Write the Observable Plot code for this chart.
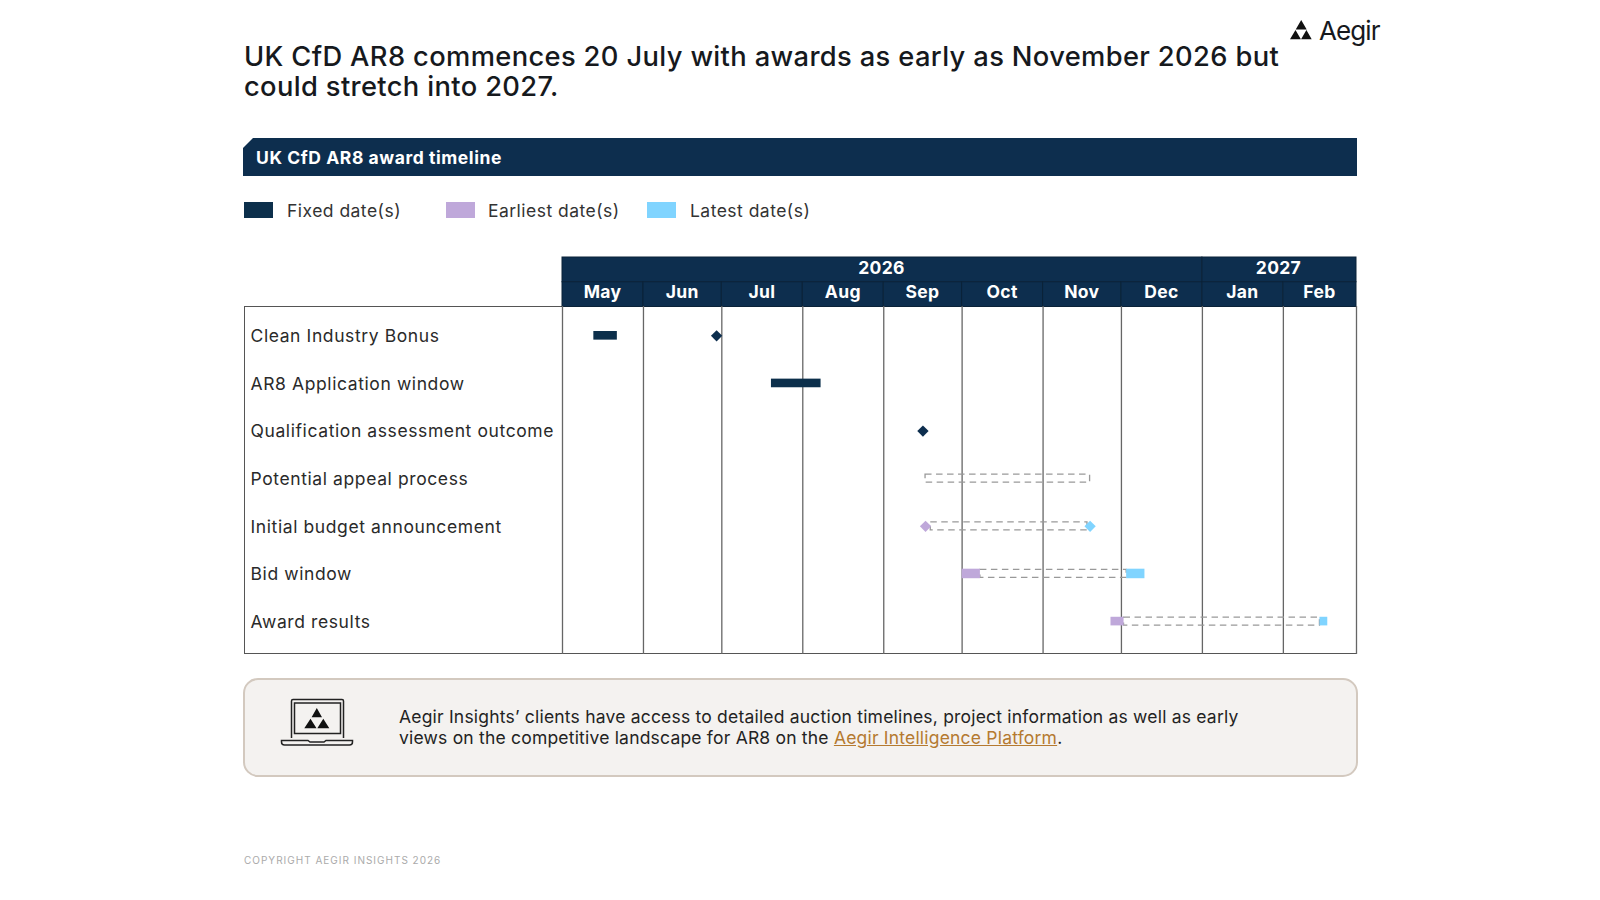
<!DOCTYPE html>
<html>
<head>
<meta charset="utf-8">
<script src="https://cdn.jsdelivr.net/npm/d3@7"></script>
<script src="https://cdn.jsdelivr.net/npm/@observablehq/plot@0.6"></script>
<style>
  html, body { margin: 0; padding: 0; background: #fff; }
  body { width: 1600px; height: 900px; position: relative; overflow: hidden; font-family: Inter, sans-serif; color: #1e1e1e; }
  .abs { position: absolute; white-space: nowrap; }
  #title { left: 244px; top: 41.5px; font-size: 27.3px; line-height: 30px; font-weight: 500; letter-spacing: 0.36px; color: #16191d; }
  #banner { left: 243px; top: 138px; width: 1114px; height: 38px; background: #0d2e4e; color: #fff; clip-path: polygon(10px 0, 100% 0, 100% 100%, 0 100%, 0 10px); font-size: 17.5px; font-weight: 700; line-height: 39.500px; letter-spacing: 0.57px; }
  #banner span { margin-left: 13px; }
  .sw { width: 28.5px; height: 16px; top: 202px; }
  .lg { top: 200px; line-height: 22px; font-size: 17.5px; letter-spacing: 0.47px; color: #333; }
  #frame { left: 244px; top: 305.5px; width: 1112.5px; height: 348px; border: 1.3px solid #555; box-sizing: border-box; }
  #head { left: 0; top: 256.5px; }
  #body { left: 0; top: 306px; }
  #note { left: 243px; top: 678px; width: 1115px; height: 99px; box-sizing: border-box; background: #f4f2f0; border: 2.2px solid #d3c9bf; border-radius: 15px; }
  #noteText { left: 399px; top: 705.5px; font-size: 17.5px; line-height: 21.5px; letter-spacing: 0.2px; color: #232323; }
  #noteText a { color: #b57a30; text-decoration: underline; }
  #copy { left: 244px; top: 854px; font-size: 10px; line-height: 12px; letter-spacing: 1px; color: #aaa; }
  #logoText { left: 1319px; top: 14px; font-size: 26px; line-height: 34px; letter-spacing: -0.9px; color: #16191d; }
</style>
</head>
<body>
<div class="abs" id="title">UK CfD AR8 commences 20 July with awards as early as November 2026 but<br>could stretch into 2027.</div>
<svg class="abs" style="left:1288px;top:18px" width="26" height="24" viewBox="0 0 26 24"><path fill="#111" d="M13.200 2 L18.700 11.500 L7.700 11.500 Z M7.500 12 L12.900 21.300 L2 21.300 Z M18.400 12 L23.700 21.300 L13.100 21.300 Z"/></svg>
<div class="abs" id="logoText">Aegir</div>
<div class="abs" id="banner"><span>UK CfD AR8 award timeline</span></div>
<div class="abs sw" style="left:244px;background:#0c2f4b"></div><div class="abs lg" style="left:287px">Fixed date(s)</div>
<div class="abs sw" style="left:446px;background:#bfa8da"></div><div class="abs lg" style="left:488px">Earliest date(s)</div>
<div class="abs sw" style="left:647px;background:#80d4ff"></div><div class="abs lg" style="left:690px">Latest date(s)</div>
<div class="abs" id="frame"></div>
<div class="abs" id="head"></div>
<div class="abs" id="body"></div>
<div class="abs" id="note"></div>
<svg class="abs" style="left:280px;top:697px" width="75" height="52" viewBox="0 0 75 52">
  <g fill="none" stroke="#222" stroke-width="1.5">
    <path d="M11.5 41 V4 Q11.5 2.5 13 2.5 H62 Q63.5 2.5 63.5 4 V41"/>
    <rect x="14.5" y="6" width="46" height="30.5"/>
    <path d="M1.5 43.5 H28 L30 45 H44 L46 43.5 H72.5 V45 Q72.5 48 69.5 48 H4.5 Q1.5 48 1.5 45 Z"/>
  </g>
  <path fill="#111" d="M36.800 11 L42 20.300 L31.600 20.300 Z M30.500 21.700 L36.500 31.300 L24.300 31.300 Z M43.300 21.700 L49.300 31.300 L37.300 31.300 Z"/>
</svg>
<div class="abs" id="noteText">Aegir Insights’ clients have access to detailed auction timelines, project information as well as early<br>views on the competitive landscape for AR8 on the <a href="#">Aegir Intelligence Platform</a>.</div>
<div class="abs" id="copy">COPYRIGHT AEGIR INSIGHTS 2026</div>

<script>
const rows = ["Clean Industry Bonus", "AR8 Application window", "Qualification assessment outcome", "Potential appeal process", "Initial budget announcement", "Bid window", "Award results"];

const monthLabels = ["May", "Jun", "Jul", "Aug", "Sep", "Oct", "Nov", "Dec", "Jan", "Feb"];
const monthStarts = ["2026-05-01", "2026-06-01", "2026-07-01", "2026-08-01", "2026-09-01", "2026-10-01", "2026-11-01", "2026-12-01", "2027-01-01", "2027-02-01", "2027-03-01"];
const yearLabels = ["2026", "2027"];
const yearStarts = ["2026-05-01", "2027-01-01", "2027-03-01"];

// [row, start, end]
const fixedBars = [["Clean Industry Bonus", "2026-05-13", "2026-05-22"], ["AR8 Application window", "2026-07-20", "2026-08-08"]];
const fixedDiamonds = [["Clean Industry Bonus", "2026-06-29"], ["Qualification assessment outcome", "2026-09-16"]];
const dashedSpans = [["Potential appeal process", "2026-09-17", "2026-11-19"], ["Initial budget announcement", "2026-09-19", "2026-11-18"], ["Bid window", "2026-10-08", "2026-12-03"], ["Award results", "2026-12-02", "2027-02-15"]];
const earliestBars = [["Bid window", "2026-10-01", "2026-10-08"], ["Award results", "2026-11-27", "2026-12-02"]];
const latestBars = [["Bid window", "2026-12-03", "2026-12-10"], ["Award results", "2027-02-15", "2027-02-18"]];
const earliestDiamonds = [["Initial budget announcement", "2026-09-17"]];
const latestDiamonds = [["Initial budget announcement", "2026-11-19"]];

const navy = "#0d2e4e";
const date = s => new Date(s + "T00:00:00Z");
const spans = a => a.map(([row, s, e]) => ({row, start: date(s), end: date(e)}));
const pts = a => a.map(([row, d]) => ({row, at: date(d)}));
const xScale = {type: "utc", domain: [date("2026-05-01"), date("2027-03-01")], axis: null};
const shared = {width: 1600, marginLeft: 562, marginRight: 244, marginTop: 0, marginBottom: 0, style: {background: "transparent", fontFamily: "Inter, sans-serif", overflow: "visible"}};

const monthCells = monthLabels.map((label, i) => ({label, start: date(monthStarts[i]), end: date(monthStarts[i + 1])}));
const yearCells = yearLabels.map((label, i) => ({label, start: date(yearStarts[i]), end: date(yearStarts[i + 1])}));
const mid = d => new Date((+d.start + +d.end) / 2);

const headChart = Plot.plot({
  ...shared,
  height: 49.5,
  x: xScale,
  y: {type: "band", domain: ["year", "month"], padding: 0, round: false, axis: null},
  marks: [
    Plot.barX(yearCells, {x1: "start", x2: "end", y: () => "year", fill: navy, stroke: "#0a2238", strokeWidth: 1}),
    Plot.barX(monthCells, {x1: "start", x2: "end", y: () => "month", fill: navy, stroke: "#0a2238", strokeWidth: 1}),
    Plot.text(yearCells, {x: mid, y: () => "year", text: "label", fill: "#fff", fontSize: 17.5, fontWeight: 700, dx: -1, dy: -1}),
    Plot.text(monthCells, {x: mid, y: () => "month", text: "label", fill: "#fff", fontSize: 17.5, fontWeight: 700, dx: -0.5, dy: -2.5})
  ]
});
document.getElementById("head").append(headChart);

const h = v => (47.6 - v) / 2;
const bidRow = d => d.row === "Bid window";
const bodyChart = Plot.plot({
  ...shared,
  height: 348,
  x: xScale,
  y: {type: "band", domain: rows, range: [5.5, 338.9], padding: 0, round: false, label: null},
  marks: [
    Plot.axisY({tickSize: 0, tickPadding: 0, textAnchor: "start", dx: -312, dy: 0.6, fontSize: 17.5, fill: "#2a2a2a", label: null}),
    Plot.ruleX(monthStarts.map(date), {stroke: "#666", strokeWidth: 1.3}),
    Plot.barX(spans(dashedSpans), {x1: "start", x2: "end", y: "row", fill: "none", stroke: "#999", strokeWidth: 1.3, strokeDasharray: "6.5 4.5", insetTop: h(8), insetBottom: h(8)}),
    Plot.barX(spans(fixedBars), {x1: "start", x2: "end", y: "row", fill: "#0c2f4b", insetTop: h(8.6), insetBottom: h(8.6)}),
    Plot.barX(spans(earliestBars).filter(bidRow), {x1: "start", x2: "end", y: "row", fill: "#bfa8da", insetTop: h(9.5), insetBottom: h(9.5)}),
    Plot.barX(spans(latestBars).filter(bidRow), {x1: "start", x2: "end", y: "row", fill: "#80d4ff", insetTop: h(9.5), insetBottom: h(9.5)}),
    Plot.barX(spans(earliestBars).filter(d => !bidRow(d)), {x1: "start", x2: "end", y: "row", fill: "#bfa8da", insetTop: h(8.6), insetBottom: h(8.6)}),
    Plot.barX(spans(latestBars).filter(d => !bidRow(d)), {x1: "start", x2: "end", y: "row", fill: "#80d4ff", insetTop: h(8.6), insetBottom: h(8.6)}),
    Plot.dot(pts(fixedDiamonds), {x: "at", y: "row", symbol: "diamond2", r: 5.1, fill: navy}),
    Plot.dot(pts(earliestDiamonds), {x: "at", y: "row", symbol: "diamond2", r: 5.1, fill: "#bfa8da"}),
    Plot.dot(pts(latestDiamonds), {x: "at", y: "row", symbol: "diamond2", r: 5.1, fill: "#80d4ff"})
  ]
});
document.getElementById("body").append(bodyChart);

// Row labels carry the wider tracking of the reference's typeface.
bodyChart.querySelectorAll("text").forEach(t => t.style.letterSpacing = "0.6px");
headChart.querySelectorAll("text").forEach(t => t.style.letterSpacing = "0.3px");
</script>
</body>
</html>
